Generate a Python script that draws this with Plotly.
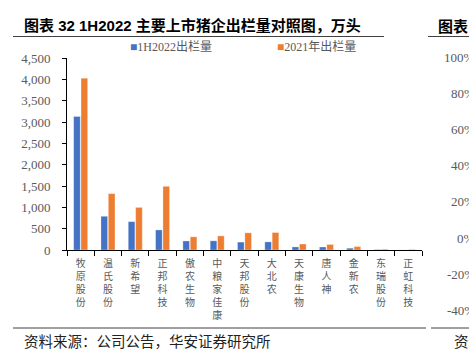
import plotly.graph_objects as go

categories = ["牧原股份", "温氏股份", "新希望", "正邦科技", "傲农生物", "中粮家佳康",
              "天邦股份", "大北农", "天康生物", "唐人神", "金新农", "东瑞股份", "正虹科技"]
series_names = ["1H2022出栏量", "2021年出栏量"]
h1_2022 = [3130, 790, 665, 470, 212, 215, 185, 190, 72, 70, 42, 10, 2]
y_2021 = [4026, 1321, 998, 1492, 308, 330, 402, 410, 140, 130, 80, 18, 12]
colors = ["#4472C4", "#ED7D31"]
y_ticks = [0, 500, 1000, 1500, 2000, 2500, 3000, 3500, 4000, 4500]
right_ticks = [100, 80, 60, 40, 20, 0, -20, -40]

title_text = "图表 32 1H2022 主要上市猪企出栏量对照图，万头"
source_text = "资料来源：公司公告，华安证券研究所"

W, H = 469, 352
L, R, T, B = 67, 47, 58, 102
pw, ph = W - L - R, H - T - B

def px_x(x):
    return (x - L) / pw

def px_y(y):
    return (H - B - y) / ph

# scale of the neighbouring (cropped) panel's percent axis
def right_scale(v):
    return px_y(238 - v * 1.807)

gray = "#595959"
serif = "Liberation Serif, Times New Roman, Noto Sans CJK SC"
cjk = "Noto Sans CJK SC"

fig = go.Figure()
for name, vals, c in zip(series_names, [h1_2022, y_2021], colors):
    fig.add_trace(go.Bar(x=categories, y=vals, name=name, marker_color=c,
                         marker_line=dict(color="rgba(255,255,255,0.6)", width=0.5)))

ticktext = ["<br>".join(list(c)) for c in categories]

fig.update_layout(
    width=W, height=H,
    margin=dict(l=L, r=R, t=T, b=B, pad=0),
    paper_bgcolor="white", plot_bgcolor="white",
    barmode="group", bargap=0.46, bargroupgap=0.1,
    showlegend=False,
    xaxis=dict(tickmode="array", tickvals=categories, ticktext=ticktext,
               tickangle=0, showline=True, linecolor="black", linewidth=1,
               ticks="outside", ticklen=5, tickcolor="black", tickson="boundaries",
               ticklabelstandoff=4,
               tickfont=dict(family=cjk, size=10, color=gray), showgrid=False,
               fixedrange=True),
    yaxis=dict(range=[0, 4500], tickvals=y_ticks, tickformat=",",
               showline=True, linecolor="black", linewidth=1, ticks="outside",
               ticklen=4, tickcolor="black", showgrid=False, zeroline=False,
               ticklabelstandoff=9,
               tickfont=dict(family=serif, size=13, color=gray)),
)

anns = []
# title
anns.append(dict(text="<b>" + title_text + "</b>", xref="paper", yref="paper",
                 x=px_x(22), y=px_y(25), xanchor="left", yanchor="middle",
                 showarrow=False, font=dict(family="Liberation Sans, " + cjk, size=15, color="black")))
anns.append(dict(text="<b>图表</b>", xref="paper", yref="paper",
                 x=px_x(436), y=px_y(25), xanchor="left", yanchor="middle",
                 showarrow=False, font=dict(family=cjk, size=15, color="black")))
# legend
leg_x = [128, 275]
for name, c, lx in zip(series_names, colors, leg_x):
    anns.append(dict(text='<span style="color:%s">■</span>%s' % (c, name),
                     xref="paper", yref="paper", x=px_x(lx), y=px_y(47),
                     xanchor="left", yanchor="middle", showarrow=False,
                     font=dict(family=serif, size=12, color=gray)))
# source
anns.append(dict(text=source_text, xref="paper", yref="paper", x=px_x(22), y=px_y(340),
                 xanchor="left", yanchor="middle", showarrow=False,
                 font=dict(family=cjk, size=14.5, color="#222222")))
anns.append(dict(text="资料", xref="paper", yref="paper", x=px_x(452), y=px_y(340),
                 xanchor="left", yanchor="middle", showarrow=False,
                 font=dict(family=cjk, size=14.5, color="#222222")))
# right neighbour panel axis labels
for v in right_ticks:
    anns.append(dict(text="%d%%" % v, xref="paper", yref="paper", x=px_x(477),
                     y=right_scale(v),
                     xanchor="right", yanchor="middle", showarrow=False,
                     font=dict(family=serif, size=13, color=gray)))
fig.update_layout(annotations=anns)

line_col = "#404040"
shapes = [
    dict(type="line", xref="paper", yref="paper", x0=px_x(13), x1=px_x(384),
         y0=px_y(36.5), y1=px_y(36.5), line=dict(color=line_col, width=1)),
    dict(type="line", xref="paper", yref="paper", x0=px_x(428), x1=px_x(475),
         y0=px_y(36.5), y1=px_y(36.5), line=dict(color=line_col, width=1)),
    dict(type="line", xref="paper", yref="paper", x0=px_x(13), x1=px_x(426),
         y0=px_y(328), y1=px_y(328), line=dict(color=line_col, width=1)),
    dict(type="line", xref="paper", yref="paper", x0=px_x(431), x1=px_x(475),
         y0=px_y(328), y1=px_y(328), line=dict(color=line_col, width=1)),
]
fig.update_layout(shapes=shapes)

fig.write_html("out.html", config={"displayModeBar": False})
